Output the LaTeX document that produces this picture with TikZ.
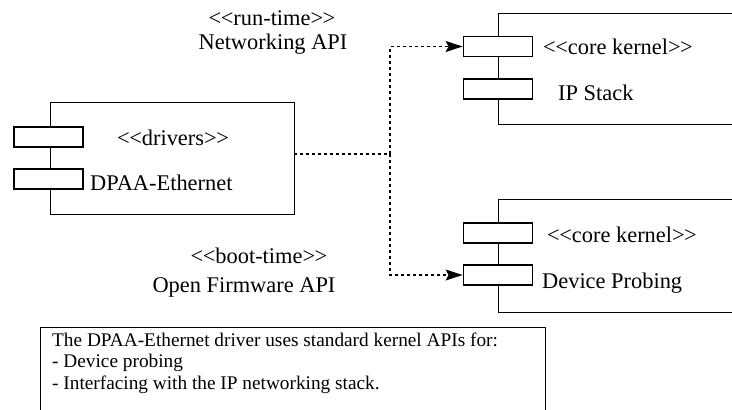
\documentclass[tikz,border=0pt]{standalone}
\usepackage{fontspec}
\setmainfont{Liberation Serif}
\usetikzlibrary{arrows.meta}
\newcommand\stlt{<\kern-0.5pt<}
\newcommand\stgt{>\kern-0.5pt>}
\begin{document}
\begin{tikzpicture}[x=1pt,y=-1pt,
  compbox/.style={draw,line width=0.8pt},
  portbox/.style={draw,line width=1.8pt,fill=white,minimum width=69pt,minimum height=20pt,inner sep=0pt},
  lbl/.style={font=\fontsize{22.4}{25}\selectfont,inner sep=0pt},
  notetxt/.style={font=\fontsize{19.3}{21.5}\selectfont,inner sep=0pt,align=left},
  dep/.style={line width=1.1pt,dash pattern=on 3pt off 3pt,-{Stealth[length=17pt,width=11pt,inset=3pt]}},
  depline/.style={line width=1.1pt,dash pattern=on 3pt off 3pt}]
\useasboundingbox (0,0) rectangle (732,410);
% driver component
\node[compbox,minimum width=244pt,minimum height=112pt,inner sep=0pt] (drv) at (172,158) {};
\node[portbox] (drvp1) at (48.5,137) {};
\node[portbox] (drvp2) at (48.5,179) {};
\node[lbl,anchor=base] (drvst) at (173,145) {\stlt drivers\stgt};
\node[lbl,anchor=base west] (drvname) at (90,190) {DPAA-Ethernet};
% IP stack component (cut at right)
\coordinate (iptr) at (732,13);
\coordinate (ipbr) at (732,124);
\draw[compbox] (iptr) -| (498,124) -- (ipbr);
\node[portbox] (ipp1) at (498,46.5) {};
\node[portbox] (ipp2) at (498,89) {};
\node[lbl,anchor=base west] (ipst) at (543,54) {\stlt core kernel\stgt};
\node[lbl,anchor=base west] (ipname) at (558,100) {IP Stack};
% Device probing component
\coordinate (dvtr) at (732,199);
\coordinate (dvbr) at (732,312);
\draw[compbox] (dvtr) -| (498,312) -- (dvbr);
\node[portbox] (dvp1) at (498,233) {};
\node[portbox] (dvp2) at (498,275) {};
\node[lbl,anchor=base west] (dvst) at (547,242) {\stlt core kernel\stgt};
\node[lbl,anchor=base west] (dvname) at (542,288) {Device Probing};
% interface labels
\node[lbl,anchor=base] (rtst) at (272,25) {\stlt run-time\stgt};
\node[lbl,anchor=base] (rtname) at (273,49) {Networking API};
\node[lbl,anchor=base] (btst) at (259,263) {\stlt boot-time\stgt};
\node[lbl,anchor=base] (btname) at (244,292) {Open Firmware API};
% connectors
\coordinate (junc) at (390,154);
\draw[depline] (drv.east |- junc) -- (junc);
\draw[dep] (junc) |- (ipp1.west);
\draw[dep] (junc) |- (dvp2.west);
% note
\coordinate (nbl) at (40,410);
\coordinate (nbr) at (545,410);
\draw[line width=1pt] (nbl) |- (545,327) -- (nbr);
\node[notetxt,anchor=base west] (note) at (52,389) {The DPAA-Ethernet driver uses standard kernel APIs for:\\- Device probing\\- Interfacing with the IP networking stack.};
\end{tikzpicture}
\end{document}
